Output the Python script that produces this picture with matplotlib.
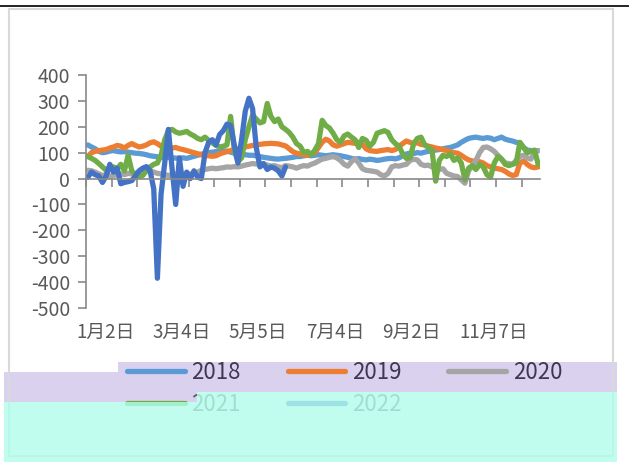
import numpy as np
import matplotlib
matplotlib.use('Agg')
import matplotlib.pyplot as plt
from matplotlib.patches import Rectangle
from matplotlib.lines import Line2D
from matplotlib.ticker import FuncFormatter, MultipleLocator

plt.rcParams['font.family'] = ['Noto Sans CJK SC', 'DejaVu Sans']

# 数据 (按交易日近似读取, 约两天一个点)
years = ['2018', '2019', '2020', '2021', '2022']
colors = ['#5B9BD5', '#ED7D31', '#A5A5A5', '#70AD47', '#4472C4']

s2018 = [130, 122, 115, 105, 100, 102, 106, 108, 105, 103,
         104, 102, 100, 98, 97, 95, 92, 88, 86, 84,
         82, 80, 82, 80, 79, 78, 80, 78, 82, 86,
         90, 94, 97, 100, 102, 104, 106, 107, 106, 102,
         98, 96, 95, 92, 90, 90, 88, 85, 82, 80,
         78, 76, 75, 77, 78, 80, 82, 85, 85, 88,
         90, 88, 90, 92, 90, 88, 90, 92, 90, 88,
         85, 82, 78, 75, 77, 74, 72, 75, 73, 70,
         72, 75, 77, 78, 76, 80, 88, 95, 98, 97,
         100, 98, 102, 105, 108, 110, 112, 115, 118, 120,
         125, 130, 140, 148, 155, 158, 160, 157, 155, 158,
         156, 150, 155, 160, 152, 148, 145, 140, 138, 120,
         110, 108, 105, 108]

s2019 = [85, 100, 105, 108, 110, 112, 118, 122, 128, 125,
         118, 128, 135, 128, 122, 125, 130, 138, 142, 135,
         125, 120, 125, 118, 120, 115, 112, 108, 104, 100,
         96, 92, 90, 88, 86, 88, 95, 100, 104, 108,
         112, 115, 118, 122, 125, 128, 130, 132, 134, 135,
         136, 135, 134, 130, 126, 115, 104, 98, 95, 92,
         90, 95, 100, 120, 140, 152, 145, 130, 125, 130,
         135, 140, 138, 136, 140, 132, 115, 108, 106, 105,
         108, 110, 112, 108, 112, 125, 135, 145, 140, 135,
         138, 132, 130, 125, 122, 118, 115, 112, 108, 104,
         100, 98, 90, 80, 72, 68, 66, 65, 60, 50,
         45, 40, 38, 35, 28, 18, 12, 15, 60, 68,
         55, 45, 42, 45]

s2020 = [32, 30, 25, 18, 12, 15, 10, 12, 15, 18,
         15, 20, 18, 20, 22, 28, 32, 30, 25, 20,
         18, 15, 12, 15, 18, 15, 12, 15, 18, 20,
         25, 32, 35, 38, 40, 38, 40, 42, 45, 44,
         46, 45, 48, 52, 55, 58, 56, 58, 55, 52,
         48, 50, 45, 42, 50, 48, 45, 40, 46, 50,
         48, 55, 60, 68, 75, 78, 82, 85, 80, 70,
         55, 48, 65, 77, 60, 38, 32, 30, 28, 25,
         15, 10, 20, 45, 50, 48, 52, 55, 70, 75,
         72, 55, 50, 52, 45, 40, 35, 38, 20, 15,
         10, 8, -5, -18, 30, 50, 70, 100, 120, 122,
         115, 105, 90, 75, 60, 58, 55, 70, 85, 90,
         80, 75, 100, 108]

s2021 = [85, 78, 70, 58, 45, 32, 40, 45, 38, 55,
         30, 90, 30, 15, 8, 12, 30, 45, 55, 60,
         90, 150, 185, 190, 180, 175, 178, 182, 172, 165,
         155, 150, 160, 148, 138, 128, 122, 125, 130, 240,
         110, 65, 80, 150, 200, 245, 230, 215, 220, 290,
         240, 220, 230, 200, 190, 178, 160, 135, 125, 100,
         105, 92, 110, 135, 225, 205, 195, 175, 150, 140,
         165, 172, 160, 150, 120, 155, 148, 125, 140, 175,
         180, 185, 178, 150, 135, 125, 95, 78, 80, 135,
         155, 160, 130, 120, 110, -10, 70, 90, 85, 95,
         70, 80, 60, -5, 40, 50, 35, 55, 45, 15,
         5, 60, 85, 75, 55, 50, 55, 60, 140, 120,
         100, 105, 110, 55]

s2022 = [5, 25, 15, 10, -15, 10, 55, 25, 40, -20,
         -15, -12, -8, 10, 30, 40, 46, 30, -40, -385,
         -60, 60, 190, 40, -100, 80, -30, 25, 0, 30,
         5, 0, 100, 140, 150, 130, 170, 185, 210, 205,
         130, 60, 150, 260, 310, 270, 120, 45, 58, 35,
         45, 40, 30, 10, 45]

series = [s2018, s2019, s2020, s2021, s2022]

date_labels = ['1月2日', '3月4日', '5月5日', '7月4日', '9月2日', '11月7日']
label_pos = [4.8, 25.7, 46.5, 67.6, 88.5, 110.9]

W, H = 629, 462
fig = plt.figure(figsize=(W / 100, H / 100), dpi=100)
fig.patch.set_facecolor('white')
ax = fig.add_axes([86 / W, 1 - 308 / H, 454 / W, 233 / H])

lines = []
for name, vals, c in zip(years, series, colors):
    ln, = ax.plot(range(len(vals)), vals, color=c, lw=3.8,
                  solid_joinstyle='round', solid_capstyle='round', label=name)
    lines.append(ln)

axis_c = '#898989'
text_c = '#595959'
ax.set_xlim(-0.5, 123.5)
ax.set_ylim(-500, 400)
ax.yaxis.set_major_locator(MultipleLocator(100))
ax.yaxis.set_major_formatter(FuncFormatter(lambda v, p: f'{v:.0f}'))
for s in ['top', 'right']:
    ax.spines[s].set_visible(False)
ax.spines['left'].set_color(axis_c)
ax.spines['left'].set_linewidth(1.2)
ax.spines['bottom'].set_color(axis_c)
ax.spines['bottom'].set_linewidth(1.2)
ax.spines['bottom'].set_position(('data', 0))
ax.set_xticks(np.arange(-0.5, 124, 7))
ax.tick_params(axis='x', labelbottom=False, length=6, width=1.2,
               color=axis_c, direction='out')
ax.tick_params(axis='y', length=5.5, width=1.2, color=axis_c,
               labelsize=14, labelcolor=text_c, pad=6)

# 日期标签放在图的底部
sec = ax.secondary_xaxis('bottom')
sec.set_xticks(label_pos, date_labels)
sec.tick_params(length=0, pad=10, labelsize=13.5, labelcolor=text_c)
sec.spines['bottom'].set_visible(False)

# 图例按行排列
order = [0, 3, 1, 4, 2]
leg = fig.legend([lines[i] for i in order], [years[i] for i in order], ncol=3,
                 loc='upper left', bbox_to_anchor=(127 / W, 1 - 361 / H),
                 frameon=False, fontsize=16, handlelength=2.6, handletextpad=0.3,
                 columnspacing=2.1, borderpad=0, borderaxespad=0, labelspacing=0.4,
                 labelcolor=text_c)
for t in leg.get_texts():
    if t.get_text() in ('2018', '2019', '2020'):
        t.set_color('#3E3852')


def rect(x0, y0, x1, y1, **kw):
    fig.add_artist(Rectangle((x0 / W, 1 - y1 / H), (x1 - x0) / W, (y1 - y0) / H,
                             transform=fig.transFigure, **kw))


# 底部色带
rect(4, 372, 197, 402, fc='#DAD1EF', ec='none', zorder=1)
rect(118, 362, 617, 392, fc='#DAD1EF', ec='none', zorder=1)
rect(8.5, 8.5, 613, 456, fc='none', ec='#D9D9D9', lw=1.5, zorder=2)
rect(4, 402, 197, 462, fc='#B2FDEC', ec='none', alpha=0.82, zorder=6)
rect(197, 392, 617, 462, fc='#B2FDEC', ec='none', alpha=0.82, zorder=6)

fig.add_artist(Line2D([0, 1], [1 - 6 / H] * 2, transform=fig.transFigure,
                      color='black', lw=1.2))

fig.savefig('out.png', dpi=100)
